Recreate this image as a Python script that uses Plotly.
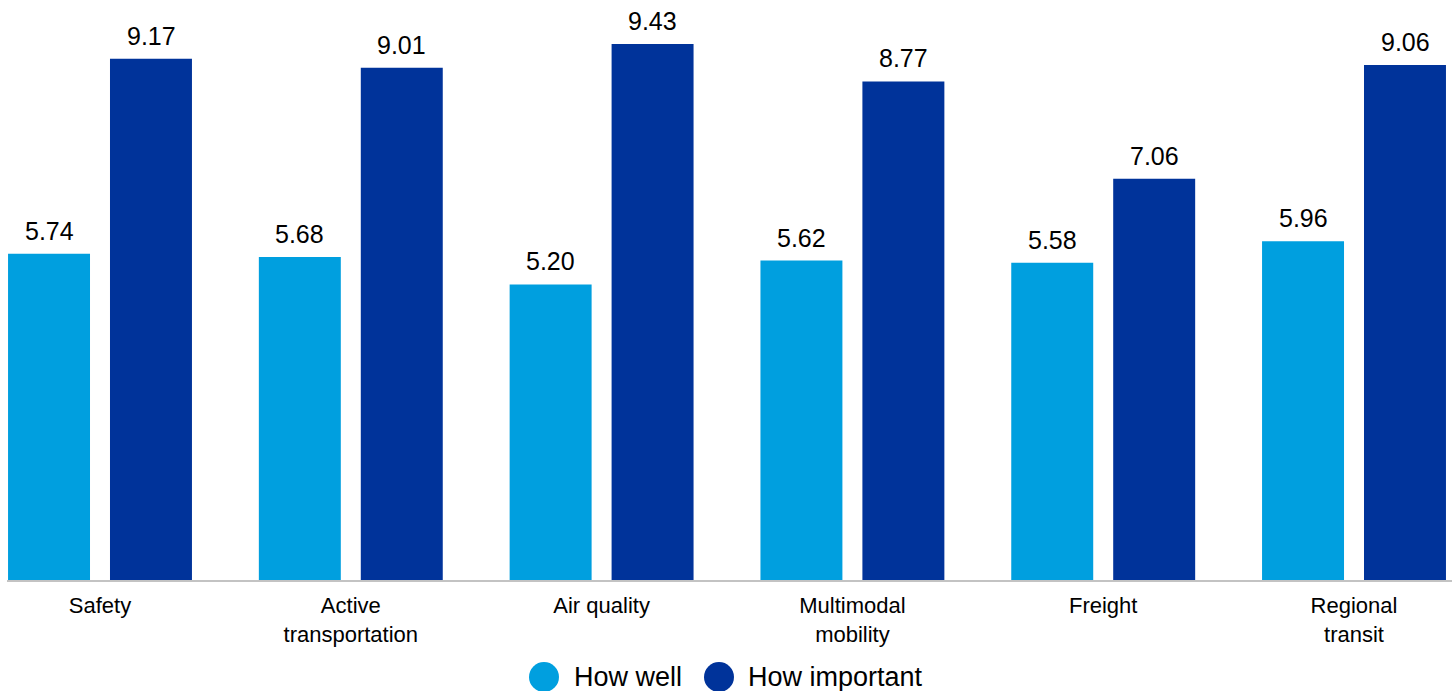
import plotly.graph_objects as go

categories = ["Safety", "Active<br>transportation", "Air quality", "Multimodal<br>mobility", "Freight", "Regional<br>transit"]
how_well = [5.74, 5.68, 5.20, 5.62, 5.58, 5.96]
how_important = [9.17, 9.01, 9.43, 8.77, 7.06, 9.06]
series_names = ["How well", "How important"]
colors = ["#009FDF", "#00339A"]

W, H = 1452, 691
ML, MR, MT, MB = 7, 0, 0, 111
FONT = "Liberation Sans, Arial, sans-serif"

fig = go.Figure()
for name, vals, col in zip(series_names, [how_well, how_important], colors):
    fig.add_trace(go.Bar(
        x=categories, y=vals, name=name, marker_color=col, marker_line_width=0,
        showlegend=False,
    ))

# value labels above each bar (offset to each bar of the group)
for vals, xs in zip([how_well, how_important], [-51, 51]):
    for c, v in zip(categories, vals):
        fig.add_annotation(x=c, y=v, text=f"{v:.2f}", showarrow=False,
                           xanchor="center", yanchor="middle", xshift=xs, yshift=23,
                           font=dict(family=FONT, size=25, color="#000000"))

plot_w = W - ML - MR
plot_h = H - MT - MB

def px_to_paper_x(px):
    return (px - ML) / plot_w

def px_to_paper_y(py):
    return (H - MB - py) / plot_h

# manual legend with large circles
leg_items = [(544, 572), (719, 746)]
for (cx, tx), name, col in zip(leg_items, series_names, colors):
    fig.add_shape(type="circle", xref="paper", yref="paper",
                  xsizemode="pixel", ysizemode="pixel",
                  xanchor=px_to_paper_x(cx), yanchor=px_to_paper_y(677),
                  x0=-15, x1=15, y0=-15, y1=15,
                  fillcolor=col, line_width=0)
    fig.add_annotation(text=name, xref="paper", yref="paper",
                       x=px_to_paper_x(tx), y=px_to_paper_y(677),
                       xanchor="left", yanchor="middle", showarrow=False,
                       font=dict(family=FONT, size=27, color="#000000"))

fig.update_layout(
    width=W, height=H,
    margin=dict(l=ML, r=MR, t=MT, b=MB),
    paper_bgcolor="white", plot_bgcolor="white",
    barmode="group", bargap=0.187, bargroupgap=0.196,
    font=dict(family=FONT, color="#000000"),
    xaxis=dict(range=[-0.3708, 5.3907], showgrid=False, zeroline=False,
               showline=True, linecolor="#C3C3C3", linewidth=2,
               ticks="", ticklabelstandoff=5,
               tickfont=dict(family=FONT, size=22, color="#000000")),
    yaxis=dict(range=[0, 580 / 56.85], visible=False, showgrid=False, zeroline=False),
)

fig.write_html("out.html")
